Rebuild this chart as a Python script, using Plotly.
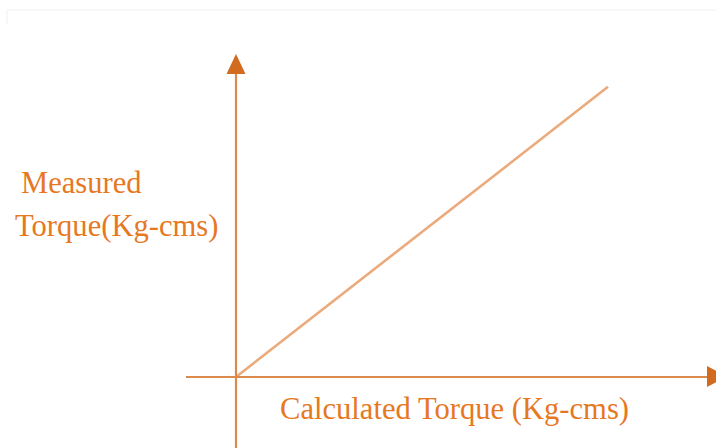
import plotly.graph_objects as go

# Data: a straight proportional relationship
calculated_torque = [0, 100]
measured_torque = [0, 78]
x_title = "Calculated Torque (Kg-cms)"
y_title_lines = ["Measured", "Torque(Kg-cms)"]

W, H = 716, 448
OFF = 0
ORIGIN_PX = (236 - OFF, 377 - OFF)
SCALE = 3.72  # pixels per data unit

def px(x):
    return (x - OFF) / W

def py(y):
    return 1 - (y - OFF) / H

x_range = [-ORIGIN_PX[0] / SCALE, (W - ORIGIN_PX[0]) / SCALE]
y_range = [-(H - ORIGIN_PX[1]) / SCALE, ORIGIN_PX[1] / SCALE]

AXIS_COLOR = "#DA8A4C"
HEAD_COLOR = "#D06B20"
LINE_COLOR = "#EBAA7C"
TEXT_COLOR = "#E6781F"
FONT = "Liberation Serif, Times New Roman, serif"
FS = 30.6

fig = go.Figure()
fig.add_trace(go.Scatter(
    x=calculated_torque, y=measured_torque, mode="lines",
    line=dict(color=LINE_COLOR, width=2.6), hoverinfo="skip", showlegend=False,
))

shapes = [
    # faint frame remnants at top
    dict(type="line", xref="paper", yref="paper", x0=px(7), x1=px(716), y0=py(10), y1=py(10),
         line=dict(color="#F4F4F4", width=1.5)),
    dict(type="line", xref="paper", yref="paper", x0=px(7), x1=px(7), y0=py(10), y1=py(24),
         line=dict(color="#F4F4F4", width=1.5)),
    # y axis
    dict(type="line", xref="x", yref="paper", x0=0, x1=0, y0=0, y1=py(72),
         line=dict(color=AXIS_COLOR, width=2.2)),
    # x axis
    dict(type="line", xref="paper", yref="y", x0=px(186), x1=px(708), y0=0, y1=0,
         line=dict(color=AXIS_COLOR, width=2.2)),
    # arrowheads
    dict(type="path", xref="paper", yref="paper",
         path=f"M {px(236)},{py(54)} L {px(226.5)},{py(74)} L {px(245.5)},{py(74)} Z",
         fillcolor=HEAD_COLOR, line=dict(width=0)),
    dict(type="path", xref="paper", yref="paper",
         path=f"M {px(727)},{py(376.5)} L {px(707)},{py(366)} L {px(707)},{py(387)} Z",
         fillcolor=HEAD_COLOR, line=dict(width=0)),
]

annotations = [
    dict(text=y_title_lines[0], xref="paper", yref="paper", x=px(19), y=py(183),
         xanchor="left", yanchor="middle", showarrow=False,
         font=dict(family=FONT, size=FS, color=TEXT_COLOR)),
    dict(text=y_title_lines[1], xref="paper", yref="paper", x=px(13), y=py(226),
         xanchor="left", yanchor="middle", showarrow=False,
         font=dict(family=FONT, size=FS, color=TEXT_COLOR)),
    dict(text=x_title, xref="paper", yref="paper", x=px(278), y=py(409),
         xanchor="left", yanchor="middle", showarrow=False,
         font=dict(family=FONT, size=FS, color=TEXT_COLOR)),
]

fig.update_layout(
    width=W, height=H,
    margin=dict(l=0, r=0, t=0, b=0),
    paper_bgcolor="white", plot_bgcolor="white",
    xaxis=dict(range=x_range, visible=False, fixedrange=True),
    yaxis=dict(range=y_range, visible=False, fixedrange=True),
    shapes=shapes, annotations=annotations,
    showlegend=False,
)

fig.write_html(
    "out.html",
    config={"displayModeBar": False},
    post_script="document.body.style.margin='0';document.body.style.overflow='hidden';",
)
